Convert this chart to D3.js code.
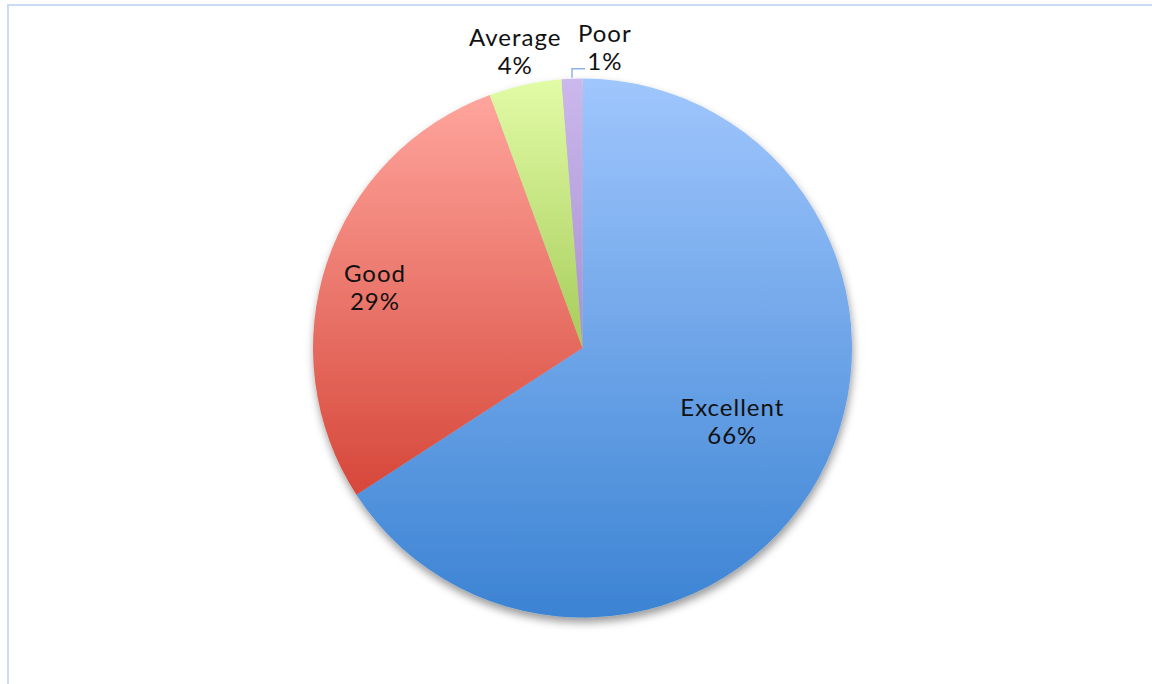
<!DOCTYPE html>
<html>
<head>
<meta charset="utf-8">
<script src="https://cdn.jsdelivr.net/npm/d3@7"></script>
<style>
  html, body { margin: 0; padding: 0; background: #fff; }
  svg { display: block; }
  text { font-family: "Century Gothic", Lato, "DejaVu Sans", sans-serif; fill: #111; }
</style>
</head>
<body>
<svg id="chart" width="1152" height="684"></svg>
<script>
// Survey responses by rating
const categories = ["Excellent", "Good", "Average", "Poor"];
const responses  = [106, 46, 7, 2];

// Per-slice gradient stops (top, bottom)
const topColors    = ["#a0c6fd", "#ffa59d", "#e2fba6", "#cbb8ec"];
const bottomColors = ["#3b83d3", "#d6473a", "#a6cc5a", "#a690d2"];

const W = 1152, H = 684;
const cx = 582.5, cy = 348, R = 269.5;

const svg = d3.select("#chart");
const defs = svg.append("defs");

// Soft shadow under the pie
const shadow = defs.append("filter").attr("id", "pieShadow")
  .attr("x", "-10%").attr("y", "-10%").attr("width", "120%").attr("height", "125%");
shadow.append("feDropShadow")
  .attr("dx", 1).attr("dy", 5).attr("stdDeviation", 4.5)
  .attr("flood-color", "#000").attr("flood-opacity", 0.4);

categories.forEach((c, i) => {
  const g = defs.append("linearGradient").attr("id", "grad" + i)
    .attr("x1", 0).attr("y1", 0).attr("x2", 0).attr("y2", 1);
  g.append("stop").attr("offset", "0%").attr("stop-color", topColors[i]);
  g.append("stop").attr("offset", "100%").attr("stop-color", bottomColors[i]);
});

// Chart-area frame
svg.append("rect")
  .attr("x", 8).attr("y", 5).attr("width", W + 20).attr("height", H + 20)
  .attr("fill", "none").attr("stroke", "#c9dcf2").attr("stroke-width", 2);

const total = d3.sum(responses);
const pct = v => Math.round(v / total * 100) + "%";

const data = categories.map((c, i) => ({ name: c, value: responses[i], idx: i }));
const pie = d3.pie().value(d => d.value).sort(null);
const arcs = pie(data);
const arc = d3.arc().innerRadius(0).outerRadius(R);

const g = svg.append("g").attr("transform", `translate(${cx},${cy})`);

g.append("g").attr("filter", "url(#pieShadow)")
  .selectAll("path").data(arcs).join("path")
  .attr("d", arc)
  .attr("fill", d => `url(#grad${d.data.idx})`);

// Label placement: radius factor along the slice bisector, plus a small nudge
const labelRadius = [0.62, 0.80, 1.12, 1.11];
const labelNudge  = [[3, -5], [-3, 9], [-3, 0], [34, 0]];

arcs.forEach((d, i) => {
  const a = (d.startAngle + d.endAngle) / 2;
  const r = R * labelRadius[i];
  const x = Math.sin(a) * r + labelNudge[i][0];
  const y = -Math.cos(a) * r + labelNudge[i][1];
  const t = g.append("text")
    .attr("text-anchor", "middle")
    .attr("font-size", 24)
    .attr("letter-spacing", 1)
    .attr("x", x).attr("y", y - 7.25);
  t.append("tspan").attr("x", x).attr("dy", 0).text(d.data.name);
  t.append("tspan").attr("x", x).attr("dy", 28.5).text(pct(d.data.value));

  if (i === 3) {
    // leader line from the thin slice to its label
    const ex = Math.sin(a) * R, ey = -Math.cos(a) * R;
    g.append("path")
      .attr("d", `M${ex},${ey - 1} L${ex},${ey - 10} L${ex + 13},${ey - 10}`)
      .attr("fill", "none").attr("stroke", "#8db3e2").attr("stroke-width", 1.5);
  }
});
</script>
</body>
</html>
